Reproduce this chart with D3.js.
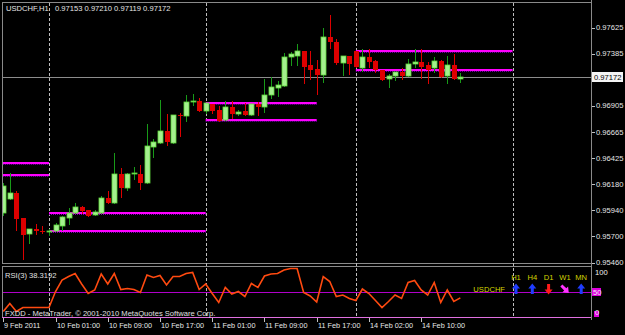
<!DOCTYPE html>
<html>
<head>
<meta charset="utf-8">
<script src="https://cdnjs.cloudflare.com/ajax/libs/d3/7.8.5/d3.min.js"></script>
<style>
  body { margin: 0; background: #000; }
  svg { display: block; font-family: "Liberation Sans", Arial, sans-serif; }
</style>
</head>
<body>
<svg id="chart"></svg>
<script>
// USDCHF H1 bars, bar 0 = 10 Feb 00:00, first bar = 9 Feb 17:00
const firstBar = -7;
const opens = [0.95912,0.96041,0.96096,0.95866,0.95719,0.95765,0.95751,0.95742,0.95746,0.95793,
  0.95866,0.95912,0.95968,0.95940,0.95894,0.95912,0.96050,0.96004,0.96271,0.96143,
  0.96271,0.96271,0.96189,0.96520,0.96557,0.96667,0.96557,0.96815,0.96806,0.96935,
  0.96944,0.96852,0.96916,0.96861,0.96769,0.96889,0.96824,0.96852,0.96815,0.96916,
  0.96889,0.96999,0.97064,0.97082,0.97349,0.97358,0.97404,0.97275,0.97239,0.97183,
  0.97542,0.97496,0.97294,0.97358,0.97413,0.97248,0.97349,0.97312,0.97229,0.97146,
  0.97174,0.97211,0.97174,0.97285,0.97303,0.97275,0.97248,0.97312,0.97174,0.97275,0.97153];
const highs = [0.96189,0.96281,0.96115,0.95866,0.95765,0.95811,0.95793,0.95765,0.95820,0.95885,
  0.95958,0.96004,0.95977,0.95940,0.95940,0.96069,0.96115,0.96465,0.96327,0.96281,
  0.96336,0.96354,0.96732,0.96594,0.96953,0.96824,0.96815,0.96833,0.96999,0.97008,
  0.96971,0.96925,0.96916,0.96898,0.96944,0.96944,0.96861,0.96925,0.96916,0.96935,
  0.97146,0.97165,0.97128,0.97386,0.97395,0.97469,0.97413,0.97413,0.97321,0.97616,
  0.97736,0.97515,0.97358,0.97358,0.97413,0.97423,0.97423,0.97321,0.97229,0.97192,
  0.97211,0.97248,0.97331,0.97423,0.97423,0.97303,0.97349,0.97321,0.97367,0.97377,0.97210];
const lows = [0.95894,0.96041,0.95756,0.95489,0.95636,0.95719,0.95728,0.95710,0.95746,0.95756,
  0.95811,0.95912,0.95912,0.95885,0.95894,0.95912,0.96004,0.96004,0.96060,0.96124,
  0.96225,0.96133,0.96189,0.96428,0.96557,0.96539,0.96557,0.96621,0.96760,0.96907,
  0.96852,0.96833,0.96833,0.96760,0.96769,0.96787,0.96815,0.96815,0.96815,0.96815,
  0.96842,0.96971,0.96990,0.97082,0.97275,0.97275,0.97110,0.97146,0.97008,0.97119,
  0.97432,0.97285,0.97183,0.97192,0.97257,0.97220,0.97257,0.97211,0.97137,0.97073,
  0.97137,0.97146,0.97174,0.97257,0.97156,0.97110,0.97211,0.97165,0.97110,0.97146,0.97119];
const closes = [0.96161,0.96096,0.95857,0.95710,0.95765,0.95746,0.95737,0.95751,0.95802,0.95875,
  0.95912,0.95968,0.95931,0.95885,0.95921,0.96050,0.96004,0.96271,0.96143,0.96271,
  0.96281,0.96189,0.96529,0.96566,0.96667,0.96566,0.96815,0.96806,0.96935,0.96944,
  0.96852,0.96925,0.96852,0.96760,0.96889,0.96824,0.96842,0.96815,0.96916,0.96889,
  0.96999,0.97073,0.97091,0.97349,0.97377,0.97404,0.97257,0.97229,0.97183,0.97542,
  0.97487,0.97294,0.97358,0.97285,0.97257,0.97349,0.97303,0.97229,0.97137,0.97174,
  0.97211,0.97174,0.97285,0.97303,0.97257,0.97229,0.97312,0.97165,0.97275,0.97146,0.97172];
const rsiValues = [11,27,11,19,19,19,19,19,51,74,81,87,66,47,54,86,66,87,55,57,
  55,49,84,79,83,64,81,81,87,89,55,66,47,29,59,46,51,41,67,59,
  82,86,87,94,97,97,49,42,30,81,71,41,44,37,33,56,47,33,19,31,
  44,37,69,73,54,44,69,29,54,31,38.3192];

// daily high/low levels (start bar, end bar, price)
const levelFrom  = [-8, -8, 0, 0, 24, 24, 47, 47];
const levelTo    = [0, 0, 24, 24, 41, 41, 71, 71];
const levelPrice = [0.96376, 0.96262, 0.95915, 0.95749, 0.96928, 0.96775, 0.97413, 0.97236];

const priceTicks = [0.97625, 0.97385, 0.96905, 0.96665, 0.96425, 0.96180, 0.95940, 0.95700, 0.95460];
const bid = 0.97172;
const separatorBars = [0, 24, 47, 71];
const timeLabelBars = [-7, 1, 9, 17, 25, 33, 41, 49, 57];
const timeLabels = ["9 Feb 2011", "10 Feb 01:00", "10 Feb 09:00", "10 Feb 17:00", "11 Feb 01:00",
  "11 Feb 09:00", "11 Feb 17:00", "14 Feb 02:00", "14 Feb 10:00"];
const rsiLevels = [100, 50, 0];
const tfNames = ["H1", "H4", "D1", "W1", "MN"];
const tfAngle = [0, 0, 180, 135, 0];
const tfColor = ["#1f3cff", "#1f3cff", "#ff1a1a", "#ff33ff", "#1f3cff"];

const width = 625, height = 335;
const svg = d3.select("#chart").attr("width", width).attr("height", height);
svg.append("rect").attr("width", width).attr("height", height).attr("fill", "#000");

// panels
const left = 2, right = 591, mainTop = 2, mainBottom = 263, rsiTop = 266, rsiBottom = 317;

const x = d3.scaleLinear().domain([0, 24]).range([49, 205.7]);
const y = d3.scaleLinear().domain([0.95460, 0.97625]).range([262.5, 27.5]);
const yr = d3.scaleLinear().domain([0, 100]).range([rsiBottom, rsiTop + 1]);

svg.append("clipPath").attr("id", "mainClip")
  .append("rect").attr("x", left + 1).attr("y", mainTop + 1)
  .attr("width", right - left - 1).attr("height", mainBottom - mainTop - 1);
svg.append("clipPath").attr("id", "rsiClip")
  .append("rect").attr("x", left + 1).attr("y", rsiTop)
  .attr("width", right - left - 1).attr("height", rsiBottom - rsiTop);

// borders
svg.append("rect").attr("x", left + 0.5).attr("y", mainTop + 0.5)
  .attr("width", right - left).attr("height", mainBottom - mainTop)
  .attr("fill", "none").attr("stroke", "#8a8a8a");
svg.append("rect").attr("x", left + 0.5).attr("y", rsiTop + 0.5)
  .attr("width", right - left).attr("height", rsiBottom - rsiTop)
  .attr("fill", "none").attr("stroke", "#8a8a8a");
svg.append("line").attr("x1", left).attr("x2", right + 1)
  .attr("y1", rsiBottom + 0.5).attr("y2", rsiBottom + 0.5)
  .attr("stroke", "#e070e0");

// period separators
svg.selectAll(".sep").data(separatorBars).enter().append("line")
  .attr("class", "sep")
  .attr("x1", d => Math.round(x(d)) + 0.5).attr("x2", d => Math.round(x(d)) + 0.5)
  .attr("y1", mainTop + 1).attr("y2", rsiBottom)
  .attr("stroke", "#bdbdbd").attr("stroke-dasharray", "3,2");

const main = svg.append("g").attr("clip-path", "url(#mainClip)");

// bid line
main.append("line").attr("x1", left).attr("x2", right)
  .attr("y1", Math.round(y(bid)) + 0.5).attr("y2", Math.round(y(bid)) + 0.5)
  .attr("stroke", "#8c8c8c");

// daily levels
const levels = d3.range(levelPrice.length);
main.selectAll(".lvl").data(levels).enter().append("line")
  .attr("class", "lvl")
  .attr("x1", i => x(levelFrom[i])).attr("x2", i => x(levelTo[i]))
  .attr("y1", i => Math.round(y(levelPrice[i]))).attr("y2", i => Math.round(y(levelPrice[i])))
  .attr("stroke", "#ff00ff").attr("stroke-width", 2);
main.selectAll(".lvl2").data(levels).enter().append("line")
  .attr("class", "lvl2")
  .attr("x1", i => x(levelFrom[i])).attr("x2", i => x(levelTo[i]))
  .attr("y1", i => Math.round(y(levelPrice[i])) + 1.5).attr("y2", i => Math.round(y(levelPrice[i])) + 1.5)
  .attr("stroke", "#7a00b0").attr("stroke-dasharray", "1,1");

// candles
const bars = d3.range(opens.length);
const cx = i => Math.round(x(firstBar + i));
const up = i => closes[i] >= opens[i];

main.selectAll(".wick").data(bars).enter().append("line")
  .attr("class", "wick")
  .attr("x1", i => cx(i) + 0.5).attr("x2", i => cx(i) + 0.5)
  .attr("y1", i => Math.round(y(highs[i]))).attr("y2", i => Math.round(y(lows[i])) + 1)
  .attr("stroke", i => up(i) ? "#189a18" : "#dd0000");

main.selectAll(".body").data(bars).enter().append("rect")
  .attr("class", "body")
  .attr("x", i => cx(i) - 2).attr("width", 5)
  .attr("y", i => Math.round(y(Math.max(opens[i], closes[i]))))
  .attr("height", i => Math.max(1, Math.round(y(Math.min(opens[i], closes[i]))) - Math.round(y(Math.max(opens[i], closes[i])))))
  .attr("fill", i => up(i) ? "#a4f08e" : "#dd0000")
  .attr("stroke", i => up(i) ? "#5ed83a" : "none")
  .attr("stroke-width", 0.8);

// price axis
svg.selectAll(".ptick").data(priceTicks).enter().append("line")
  .attr("class", "ptick")
  .attr("x1", right + 1).attr("x2", right + 4)
  .attr("y1", d => Math.round(y(d)) + 0.5).attr("y2", d => Math.round(y(d)) + 0.5)
  .attr("stroke", "#c0c0c0");
svg.selectAll(".plabel").data(priceTicks).enter().append("text")
  .attr("class", "plabel")
  .attr("x", 596).attr("y", d => y(d) + 2.8)
  .attr("fill", "#e6e6e6").attr("font-size", "7.6px")
  .text(d => d.toFixed(5));
svg.append("rect").attr("x", 592).attr("y", Math.round(y(bid)) - 5)
  .attr("width", 31).attr("height", 10).attr("fill", "#f4f4f4");
svg.append("text").attr("x", 594).attr("y", y(bid) + 3)
  .attr("fill", "#000").attr("font-size", "7.6px").text(bid.toFixed(5));

// header
svg.append("text").attr("x", 6).attr("y", 11).attr("fill", "#e6e6e6").attr("font-size", "7.6px")
  .text("USDCHF,H1");
svg.append("text").attr("x", 55).attr("y", 11).attr("fill", "#e6e6e6").attr("font-size", "7.6px")
  .text([opens, highs, lows, closes].map(a => a[a.length - 1].toFixed(5)).join(" "));

// RSI panel
const rsi = svg.append("g").attr("clip-path", "url(#rsiClip)");
rsi.append("line").attr("x1", left).attr("x2", right)
  .attr("y1", Math.round(yr(50)) + 0.5).attr("y2", Math.round(yr(50)) + 0.5)
  .attr("stroke", "#b000c8");
rsi.append("path")
  .datum(bars)
  .attr("d", d3.line().x(i => x(firstBar + i)).y(i => yr(rsiValues[i])))
  .attr("fill", "none").attr("stroke", "#ff4a10").attr("stroke-width", 1.6);

svg.append("text").attr("x", 5).attr("y", 278).attr("fill", "#e0e0e0").attr("font-size", "7.6px")
  .text("RSI(3) " + rsiValues[rsiValues.length - 1].toFixed(4));
svg.append("text").attr("x", 5).attr("y", 316).attr("fill", "#e0e0e0").attr("font-size", "7.6px")
  .text("FXDD - MetaTrader, © 2001-2010 MetaQuotes Software Corp.");

// RSI scale
svg.append("rect").attr("x", 592).attr("y", yr(50) - 4).attr("width", 9).attr("height", 8)
  .attr("fill", "#e000e0");
svg.append("rect").attr("x", 594).attr("y", rsiBottom - 6).attr("width", 5).attr("height", 6)
  .attr("fill", "#e000e0");
svg.selectAll(".rlabel").data(rsiLevels).enter().append("text")
  .attr("class", "rlabel")
  .attr("x", d => d === 50 ? 593 : 595)
  .attr("y", d => d === 100 ? yr(d) + 8 : d === 0 ? yr(d) - 2 : yr(d) + 3)
  .attr("fill", "#f0f0f0").attr("font-size", "7.6px")
  .text(d => d);

// trend widget
svg.append("text").attr("x", 505).attr("y", 292).attr("text-anchor", "end")
  .attr("fill", "#d4d400").attr("font-size", "7.6px").text("USDCHF");
const tf = svg.selectAll(".tf").data(tfNames).enter().append("g")
  .attr("class", "tf")
  .attr("transform", (d, i) => "translate(" + (516 + i * 16.3) + ",0)");
tf.append("text").attr("y", 280).attr("text-anchor", "middle")
  .attr("fill", "#d4d400").attr("font-size", "7.6px").text(d => d);
tf.append("path")
  .attr("d", "M0,-5.5L4,-0.5L1.5,-0.5L1.5,5L-1.5,5L-1.5,-0.5L-4,-0.5Z")
  .attr("transform", (d, i) => "translate(0,289) rotate(" + tfAngle[i] + ")")
  .attr("fill", (d, i) => tfColor[i]);

// time axis
svg.selectAll(".ttick").data(timeLabelBars).enter().append("line")
  .attr("class", "ttick")
  .attr("x1", d => Math.round(x(d)) + 0.5).attr("x2", d => Math.round(x(d)) + 0.5)
  .attr("y1", rsiBottom + 1).attr("y2", rsiBottom + 5)
  .attr("stroke", "#c0c0c0");
svg.selectAll(".tlabel").data(timeLabels).enter().append("text")
  .attr("class", "tlabel")
  .attr("x", (d, i) => Math.round(x(timeLabelBars[i])) + 1)
  .attr("y", 328)
  .attr("fill", "#e6e6e6").attr("font-size", "7.3px")
  .text(d => d);

// right axis line
svg.append("line").attr("x1", right + 0.5).attr("x2", right + 0.5)
  .attr("y1", 0).attr("y2", rsiBottom + 3).attr("stroke", "#8a8a8a");
</script>
</body>
</html>
